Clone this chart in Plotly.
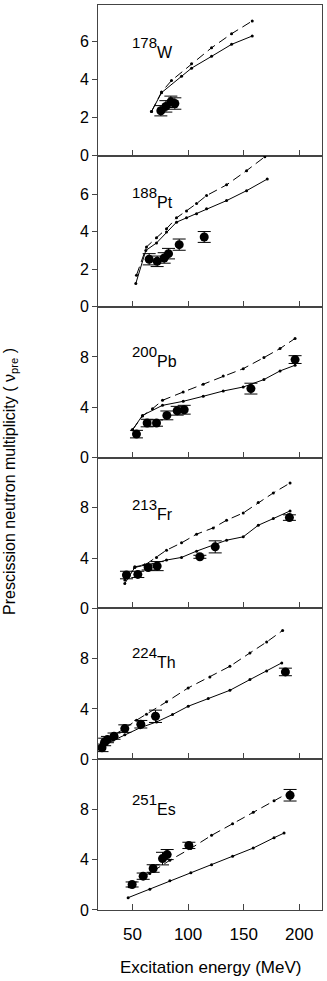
import plotly.graph_objects as go
from plotly.subplots import make_subplots

# ---- data (energy in MeV, multiplicity) ----
# 178W
W_SOLID_E = [67.1, 76.1, 94.1, 103.1, 121.1, 139.1, 157.7]
W_SOLID_NU = [2.33, 3.32, 4.18, 4.61, 5.23, 5.86, 6.30]
W_DASH_E = [67.1, 76.1, 85.1, 103.1, 121.1, 139.1, 157.7]
W_DASH_NU = [2.33, 3.35, 3.96, 4.84, 5.68, 6.42, 7.09]
W_EXP_E = [75.5, 80.0, 84.5, 88.1]
W_EXP_NU = [2.37, 2.6, 2.84, 2.75]
W_EXP_ERR = [0.27, 0.3, 0.3, 0.3]

# 188Pt
PT_SOLID_E = [53.0, 62.0, 71.6, 80.6, 89.6, 98.6, 107.6, 116.6, 134.6, 152.6, 171.2]
PT_SOLID_NU = [1.24, 3.0, 3.4, 3.98, 4.51, 4.74, 4.96, 5.22, 5.66, 6.19, 6.81]
PT_DASH_E = [53.6, 62.6, 71.6, 80.6, 89.6, 98.6, 107.6, 116.6, 134.6, 152.6, 169.0]
PT_DASH_NU = [1.68, 3.19, 3.68, 4.16, 4.74, 5.1, 5.5, 5.93, 6.5, 7.26, 8.0]
PT_EXP_E = [65.0, 72.2, 78.5, 82.4, 92.0, 114.5]
PT_EXP_NU = [2.53, 2.42, 2.6, 2.83, 3.31, 3.72]
PT_EXP_ERR = [0.3, 0.28, 0.28, 0.28, 0.3, 0.29]

# 200Pb
PB_SOLID_E = [50.0, 59.0, 77.0, 95.6, 113.6, 131.6, 149.6, 168.2, 182.7, 196.2]
PB_SOLID_NU = [2.2, 3.35, 4.15, 4.47, 4.87, 5.29, 5.61, 6.2, 6.89, 7.34]
PB_DASH_E = [50.0, 59.0, 68.0, 77.0, 95.6, 113.6, 131.6, 149.6, 168.2, 182.7, 196.2]
PB_DASH_NU = [2.2, 3.3, 3.88, 4.55, 5.21, 5.82, 6.49, 7.07, 7.95, 8.67, 9.47]
PB_EXP_E = [53.6, 63.2, 71.6, 80.9, 90.2, 96.5, 156.5, 196.2]
PB_EXP_NU = [1.86, 2.74, 2.74, 3.35, 3.72, 3.8, 5.48, 7.79]
PB_EXP_ERR = [0.3, 0.3, 0.25, 0.35, 0.35, 0.35, 0.43, 0.31]

# 213Fr
FR_SOLID_E = [43.1, 52.1, 61.1, 71.6, 80.6, 94.1, 107.6, 122.6, 134.6, 149.6, 163.1, 176.6, 191.7]
FR_SOLID_NU = [1.98, 3.25, 3.44, 3.62, 3.84, 4.05, 4.55, 5.03, 5.42, 5.69, 6.61, 7.14, 7.75]
FR_DASH_E = [43.1, 52.1, 61.1, 71.6, 80.6, 94.1, 107.6, 122.6, 134.6, 149.6, 163.1, 176.6, 191.7]
FR_DASH_NU = [2.25, 3.31, 3.44, 4.05, 4.63, 5.21, 5.9, 6.4, 7.01, 7.59, 8.41, 9.18, 9.97]
FR_EXP_E = [44.6, 54.8, 64.1, 72.2, 110.6, 124.4, 191.1]
FR_EXP_NU = [2.65, 2.7, 3.25, 3.36, 4.1, 4.89, 7.22]
FR_EXP_ERR = [0.3, 0.25, 0.2, 0.36, 0.12, 0.48, 0.22]

# 224Th
TH_SOLID_E = [21.0, 32.6, 43.1, 57.0, 71.6, 86.0, 100.1, 118.1, 137.6, 155.6, 170.6, 184.2]
TH_SOLID_NU = [1.0, 1.5, 1.95, 2.5, 2.96, 3.55, 4.21, 4.82, 5.48, 6.33, 7.02, 7.66]
TH_DASH_E = [22.0, 34.1, 43.1, 53.6, 62.6, 80.6, 100.1, 119.6, 137.6, 155.6, 170.6, 185.0]
TH_DASH_NU = [1.3, 1.95, 2.45, 3.1, 3.58, 4.56, 5.67, 6.54, 7.39, 8.45, 9.32, 10.24]
TH_EXP_E = [22.6, 25.0, 27.5, 33.4, 43.1, 57.5, 70.7, 187.5]
TH_EXP_NU = [0.9, 1.37, 1.56, 1.83, 2.43, 2.78, 3.41, 6.94]
TH_EXP_ERR = [0.3, 0.3, 0.25, 0.25, 0.3, 0.3, 0.49, 0.3]

# 251Es
ES_SOLID_E = [46.1, 65.6, 83.6, 102.5, 121.1, 140.0, 158.6, 177.3, 186.3]
ES_SOLID_NU = [0.98, 1.66, 2.32, 2.96, 3.61, 4.27, 4.93, 5.75, 6.12]
ES_DASH_E = [47.0, 65.6, 83.6, 102.5, 121.1, 140.0, 158.6, 177.3, 191.7]
ES_DASH_NU = [1.85, 2.9, 3.96, 4.9, 5.94, 6.86, 7.78, 8.7, 9.39]
ES_EXP_E = [49.7, 59.6, 68.6, 77.0, 81.2, 100.7, 191.7]
ES_EXP_NU = [2.03, 2.69, 3.3, 4.09, 4.41, 5.14, 9.13]
ES_EXP_ERR = [0.2, 0.25, 0.3, 0.5, 0.4, 0.25, 0.46]

MASS_NUMBERS = ["178", "188", "200", "213", "224", "251"]
ELEMENTS = ["W", "Pt", "Pb", "Fr", "Th", "Es"]
Y_MAX = [7.93, 8.05, 12, 12, 12, 12]
Y_TICKS = [[0, 2, 4, 6], [0, 2, 4, 6], [0, 4, 8], [0, 4, 8], [0, 4, 8], [0, 4, 8]]
LABEL_Y = [5.95, 6.1, 8.45, 8.3, 8.5, 8.8]
X_TICKS = [50, 100, 150, 200]

panels = [
    (W_SOLID_E, W_SOLID_NU, W_DASH_E, W_DASH_NU, W_EXP_E, W_EXP_NU, W_EXP_ERR),
    (PT_SOLID_E, PT_SOLID_NU, PT_DASH_E, PT_DASH_NU, PT_EXP_E, PT_EXP_NU, PT_EXP_ERR),
    (PB_SOLID_E, PB_SOLID_NU, PB_DASH_E, PB_DASH_NU, PB_EXP_E, PB_EXP_NU, PB_EXP_ERR),
    (FR_SOLID_E, FR_SOLID_NU, FR_DASH_E, FR_DASH_NU, FR_EXP_E, FR_EXP_NU, FR_EXP_ERR),
    (TH_SOLID_E, TH_SOLID_NU, TH_DASH_E, TH_DASH_NU, TH_EXP_E, TH_EXP_NU, TH_EXP_ERR),
    (ES_SOLID_E, ES_SOLID_NU, ES_DASH_E, ES_DASH_NU, ES_EXP_E, ES_EXP_NU, ES_EXP_ERR),
]

FONT = "Liberation Sans, Arial, sans-serif"
FRAME = "#444444"

fig = make_subplots(rows=6, cols=1, shared_xaxes=True, vertical_spacing=0)

for i, (se, sn, de, dn, ee, en, eerr) in enumerate(panels):
    row = i + 1
    # dashed calculation
    fig.add_trace(go.Scatter(
        x=de, y=dn, mode="lines+markers",
        line=dict(color="black", width=1, dash="9px,5px"),
        marker=dict(size=3, color="black"),
        showlegend=False
    ), row=row, col=1)
    # solid calculation
    fig.add_trace(go.Scatter(
        x=se, y=sn, mode="lines+markers",
        line=dict(color="black", width=1),
        marker=dict(size=3, color="black"),
        showlegend=False
    ), row=row, col=1)
    # experimental points
    fig.add_trace(go.Scatter(
        x=ee, y=en, mode="markers",
        marker=dict(size=9, color="black"),
        error_y=dict(type="data", array=eerr, color="black", thickness=1, width=6.5),
        showlegend=False
    ), row=row, col=1)

    fig.update_yaxes(
        range=[0, Y_MAX[i]], tickvals=Y_TICKS[i], ticks="outside", ticklen=5,
        tickcolor=FRAME, showline=True, linecolor=FRAME, linewidth=1, mirror=True,
        showgrid=False, zeroline=False, tickfont=dict(size=16, color="black"),
        row=row, col=1
    )
    fig.update_xaxes(
        range=[19, 220.4], tickvals=X_TICKS, ticks="inside", ticklen=6,
        tickcolor=FRAME, showline=True, linecolor=FRAME, linewidth=1, mirror=True,
        showgrid=False, zeroline=False, tickfont=dict(size=17, color="black"),
        row=row, col=1
    )

    xref = "x" if row == 1 else f"x{row}"
    yref = "y" if row == 1 else f"y{row}"
    fig.add_annotation(x=48, y=LABEL_Y[i], xref=xref, yref=yref, text=MASS_NUMBERS[i],
                       showarrow=False, xanchor="left", yanchor="middle",
                       font=dict(size=15, color="black", family=FONT))
    fig.add_annotation(x=48, y=LABEL_Y[i], xref=xref, yref=yref, text=ELEMENTS[i],
                       showarrow=False, xanchor="left", yanchor="middle",
                       xshift=25, yshift=-10,
                       font=dict(size=16, color="black", family=FONT))

# labels under the bottom panel sit a bit lower, as in the original
fig.update_xaxes(ticklabelstandoff=9, row=6, col=1)

fig.add_annotation(x=0.5, y=-0.063, xref="paper", yref="paper",
                   text="Excitation energy (MeV)", showarrow=False,
                   xanchor="center", yanchor="middle",
                   font=dict(size=17, color="black", family=FONT))
fig.add_annotation(x=0, y=0.473, xref="paper", yref="paper", xshift=-87,
                   text="Prescission neutron multiplicity ( \u03bd<sub>pre</sub> )",
                   textangle=-90, showarrow=False,
                   xanchor="center", yanchor="middle",
                   font=dict(size=16, color="black", family=FONT))

fig.update_layout(
    width=327, height=981,
    margin=dict(l=98, r=5, t=5, b=71),
    paper_bgcolor="white", plot_bgcolor="white",
    font=dict(family=FONT, color="black"),
    showlegend=False
)

# page body has a default 8px margin; drop it so the figure sits at the window corner
fig.write_html("out.html", config={"displayModeBar": False},
               post_script="document.body.style.margin='0';")
